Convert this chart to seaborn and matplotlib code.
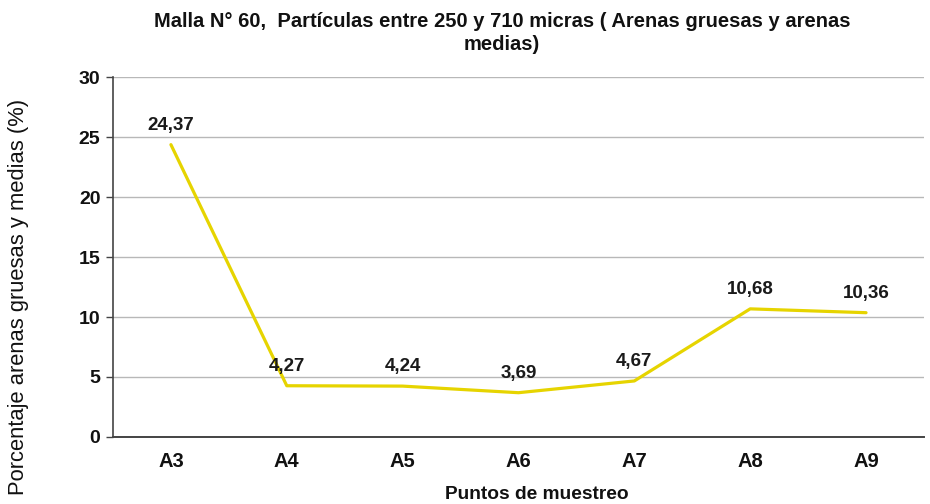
import matplotlib
matplotlib.use("Agg")
import matplotlib.pyplot as plt
import seaborn as sns
import pandas as pd

puntos = ["A3", "A4", "A5", "A6", "A7", "A8", "A9"]
porcentaje = [24.37, 4.27, 4.24, 3.69, 4.67, 10.68, 10.36]
etiquetas = ["24,37", "4,27", "4,24", "3,69", "4,67", "10,68", "10,36"]
yticks = [0, 5, 10, 15, 20, 25, 30]

sns.set_theme(style="white")
plt.rcParams["font.family"] = ["Liberation Sans", "DejaVu Sans"]

df = pd.DataFrame({"Punto": puntos, "Porcentaje": porcentaje})

fig = plt.figure(figsize=(9.3, 5.04), dpi=100)
ax = fig.add_axes([0.1215, 0.133, 0.872, 0.714])

sns.lineplot(data=df, x="Punto", y="Porcentaje", ax=ax, color="#E6D400",
             linewidth=2.3, sort=False, zorder=3)

for i, (v, t) in enumerate(zip(porcentaje, etiquetas)):
    ax.annotate(t, (i, v), xytext=(0, 8), textcoords="offset points",
                ha="center", va="bottom", fontsize=13.5, fontweight="bold",
                color="#1a1a1a")

ax.set_xlim(-0.5, len(puntos) - 0.5)
ax.set_ylim(0, 30)
ax.set_yticks(yticks)
ax.yaxis.grid(True, color="#b8b8b8", linewidth=1)
ax.set_axisbelow(True)

for s in ["top", "right"]:
    ax.spines[s].set_visible(False)
ax.spines["left"].set_color("#444444")
ax.spines["bottom"].set_color("#444444")
ax.spines["left"].set_linewidth(1.2)
ax.spines["bottom"].set_linewidth(1.4)

ax.tick_params(axis="y", which="major", length=5, width=1, color="#444444",
               left=True, labelsize=14, pad=4)
ax.tick_params(axis="x", length=0, labelsize=14.5, pad=11)
for lbl in ax.get_xticklabels() + ax.get_yticklabels():
    lbl.set_fontweight("bold")
    lbl.set_color("#111111")

ax.set_xlabel("Puntos de muestreo", fontsize=13.8, fontweight="bold",
              color="#111111")
ax.set_ylabel("Porcentaje arenas gruesas y medias (%)", fontsize=15.8,
              color="#111111")
ax.xaxis.set_label_coords(0.522, -0.137)
ax.yaxis.set_label_coords(-0.104, 0.39)

fig.text(0.54, 0.934,
         "Malla N° 60,  Partículas entre 250 y 710 micras ( Arenas gruesas y arenas\nmedias)",
         ha="center", va="center", fontsize=14.5, fontweight="bold",
         color="#111111", linespacing=1.25)

fig.savefig("out.png", dpi=100)
